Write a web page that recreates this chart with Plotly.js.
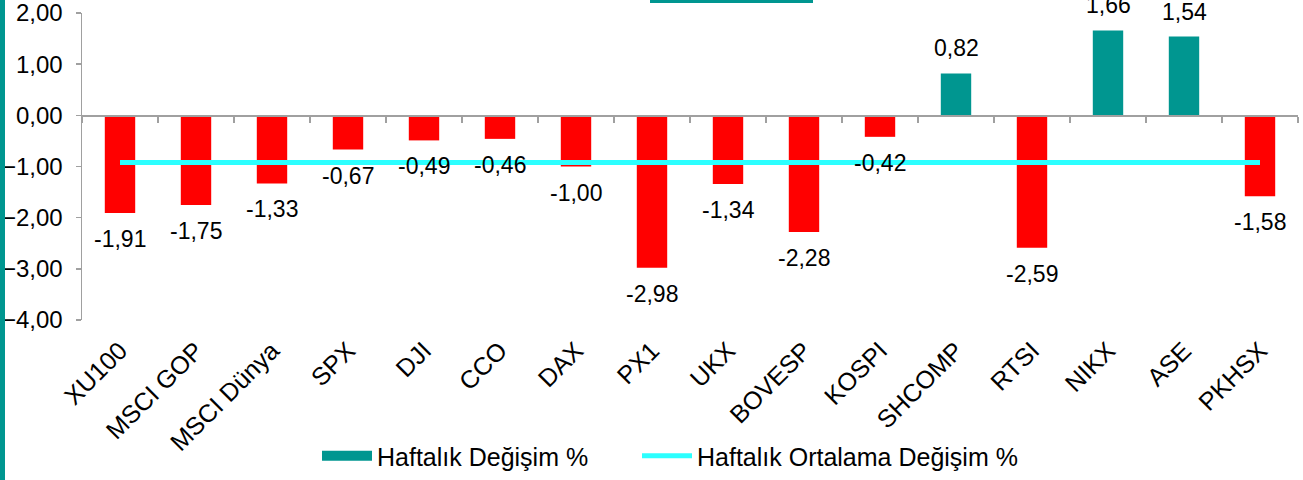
<!DOCTYPE html>
<html>
<head>
<meta charset="utf-8">
<script src="https://cdn.plot.ly/plotly-3.0.1.min.js"></script>
<style>
  body { margin: 0; background: #fff; }
  #wrap { position: relative; width: 1303px; height: 480px; overflow: hidden; }
  #chart { position: absolute; left: 0; top: 0; width: 1303px; height: 480px; }
  #edge { position: absolute; left: 0; top: 0; width: 5px; height: 480px; background: #009690; }
  #topbar { position: absolute; left: 650px; top: 0; width: 163px; height: 3px; background: #009690; }
</style>
</head>
<body>
<div id="wrap">
  <div id="chart"></div>
  <div id="edge"></div>
  <div id="topbar"></div>
</div>
<script>
// Haftalık değişim verisi
const categories = ['XU100', 'MSCI GOP', 'MSCI Dünya', 'SPX', 'DJI', 'CCO', 'DAX', 'PX1',
    'UKX', 'BOVESP', 'KOSPI', 'SHCOMP', 'RTSI', 'NIKX', 'ASE', 'PKHSX'];
const weeklyChange = [-1.91, -1.75, -1.33, -0.67, -0.49, -0.46, -1.00, -2.98,
    -1.34, -2.28, -0.42, 0.82, -2.59, 1.66, 1.54, -1.58];
const avgChange = [-0.92, -0.92, -0.92, -0.92, -0.92, -0.92, -0.92, -0.92,
    -0.92, -0.92, -0.92, -0.92, -0.92, -0.92, -0.92, -0.92];
const yTicks = [2, 1, 0, -1, -2, -3, -4];

const teal = '#009690';
const red = '#FF0000';
const font = 'Liberation Sans, Arial, sans-serif';

const barColors = weeklyChange.map(v => v < 0 ? red : teal);

const bars = {
    x: categories,
    y: weeklyChange,
    type: 'bar',
    name: 'Haftalık Değişim %',
    marker: { color: barColors },
    showlegend: false,
    hoverinfo: 'x+y'
};

// legend entry only: a thick teal stroke looks like the wide swatch of the original
const barsLegend = {
    x: [null],
    y: [null],
    type: 'scatter',
    mode: 'lines',
    name: 'Haftalık Değişim %',
    line: { color: teal, width: 14 }
};

const avgLine = {
    x: categories,
    y: avgChange,
    type: 'scatter',
    mode: 'lines',
    name: 'Haftalık Ortalama Değişim %',
    xaxis: 'x2',
    legend: 'legend2',
    line: { color: '#2CFFFF', width: 5 }
};

// bar value labels
const labels = weeklyChange.map((v, i) => ({
    x: categories[i],
    y: v,
    text: v.toFixed(2).replace('.', ','),
    showarrow: false,
    yanchor: 'middle',
    yshift: v < 0 ? -26 : 25,
    font: { family: font, size: 23, color: '#000' }
}));

const legendBase = {
    orientation: 'h',
    xref: 'container',
    xanchor: 'left',
    yref: 'container',
    y: 0.05,
    yanchor: 'middle',
    font: { family: font, size: 25 },
    itemwidth: 50
};

const layout = {
    width: 1303,
    height: 480,
    margin: { l: 82, r: 5, t: 13, b: 160 },
    paper_bgcolor: '#fff',
    plot_bgcolor: '#fff',
    font: { family: font, size: 24, color: '#000' },
    separators: ',.',
    bargap: 0.6,
    barmode: 'overlay',
    showlegend: true,
    legend: Object.assign({}, legendBase, { x: 317 / 1303 }),
    legend2: Object.assign({}, legendBase, { x: 637 / 1303 }),
    xaxis: {
        type: 'category',
        range: [-0.5, 15.5],
        showline: false,
        ticks: '',
        tickangle: -45,
        ticklabelstandoff: 10,
        tickfont: { family: font, size: 25 },
        showgrid: false,
        zeroline: false
    },
    xaxis2: {
        type: 'category',
        overlaying: 'x',
        anchor: 'free',
        position: 4 / 6,
        side: 'bottom',
        range: [-0.5, 15.5],
        showline: true,
        linecolor: '#A0A0A0',
        linewidth: 1.5,
        ticks: 'outside',
        tickson: 'boundaries',
        ticklen: 6,
        tickcolor: '#A0A0A0',
        tickwidth: 1.5,
        showticklabels: false,
        showgrid: false,
        zeroline: false
    },
    yaxis: {
        range: [-4, 2.0001],
        tickvals: yTicks,
        tickformat: '.2f',
        ticklabeloverflow: 'allow',
        showline: true,
        linecolor: '#A0A0A0',
        linewidth: 1.5,
        ticks: 'outside',
        ticklen: 5,
        tickcolor: '#A0A0A0',
        tickwidth: 1.5,
        ticklabelstandoff: 8,
        tickfont: { family: font, size: 24 },
        showgrid: false,
        zeroline: false
    },
    annotations: labels
};

Plotly.newPlot('chart', [bars, barsLegend, avgLine], layout, { displayModeBar: false, staticPlot: true });
</script>
</body>
</html>
